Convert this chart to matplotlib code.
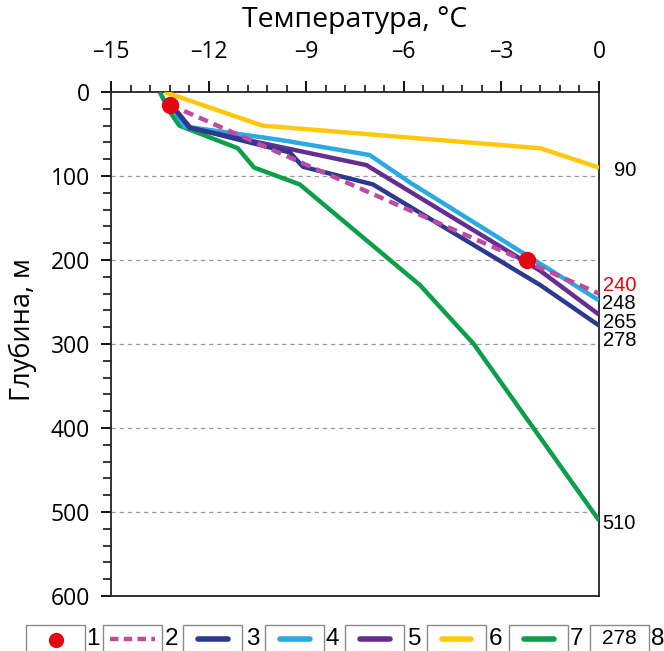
import matplotlib
matplotlib.use("Agg")
import matplotlib.pyplot as plt
from matplotlib.patches import Rectangle
from matplotlib.lines import Line2D
import matplotlib.transforms as mtransforms
import numpy as np

# ---------------- data ----------------
dots_T = [-13.2, -2.2]
dots_d = [15, 200]

fit_T = [-13.2, 0.0]
fit_d = [15, 240]

l3_T = [-13.25, -12.6, -9.5, -9.1, -6.95, -1.8, 0.0]
l3_d = [10, 42, 72, 89, 110, 230, 278]

l4_T = [-13.25, -12.75, -9.8, -7.05, -5.8, 0.0]
l4_d = [10, 41, 57, 75, 108, 248]

l5_T = [-13.25, -12.55, -7.15, -1.8, 0.0]
l5_d = [10, 43, 87, 213, 265]

l6_T = [-13.35, -10.35, -1.8, 0.0]
l6_d = [0, 40, 67, 90]

l7_T = [-13.5, -13.2, -12.9, -11.1, -10.6, -9.2, -5.5, -3.85, 0.0]
l7_d = [0, 23, 40, 67, 90, 110, 230, 300, 510]

end_labels = ["90", "240", "248", "265", "278", "510"]
end_label_depth = [93, 230, 252, 274, 296, 514]

x_ticks = [-15, -12, -9, -6, -3, 0]
x_ticklabels = ["\u201315", "\u201312", "\u20139", "\u20136", "\u20133", "0"]
y_ticks = [0, 100, 200, 300, 400, 500, 600]
legend_labels = ["1", "2", "3", "4", "5", "6", "7", "8"]

# ---------------- style ----------------
C_RED = "#E30613"
C_MAG = "#BE4B9F"
C_NAVY = "#2B3990"
C_LBLUE = "#29ABE2"
C_PURPLE = "#662D91"
C_YELLOW = "#FFC80A"
C_GREEN = "#0B9F4A"

plt.rcParams['font.family'] = ['Open Sans', 'DejaVu Sans']

W, H = 664, 651
fig = plt.figure(figsize=(W / 100, H / 100), dpi=100)
ax = fig.add_axes([111 / W, 1 - 596 / H, (599 - 111) / W, (596 - 92) / H])

LW = 3.2
ax.plot(l7_T, l7_d, color=C_GREEN, lw=LW, solid_capstyle='butt', zorder=3)
ax.plot(l6_T, l6_d, color=C_YELLOW, lw=LW, solid_capstyle='butt', zorder=3)
ax.plot(l4_T, l4_d, color=C_LBLUE, lw=LW, solid_capstyle='butt', zorder=3)
ax.plot(l5_T, l5_d, color=C_PURPLE, lw=LW, solid_capstyle='butt', zorder=3)
ax.plot(l3_T, l3_d, color=C_NAVY, lw=LW, solid_capstyle='butt', zorder=3)
ax.plot(fit_T, fit_d, color=C_MAG, lw=LW, linestyle=(0, (2.2, 1.4)),
        dash_capstyle='butt', zorder=4)
ax.plot(dots_T, dots_d, linestyle='none', marker='o', markersize=12.5,
        color=C_RED, markeredgewidth=0, zorder=5)

ax.set_xlim(-15, 0)
ax.set_ylim(600, 0)
ax.xaxis.tick_top()
ax.xaxis.set_label_position('top')
ax.set_xticks(x_ticks)
ax.set_xticklabels(x_ticklabels)
ax.set_xticks(np.arange(-15, 0.001, 0.6), minor=True)
ax.set_yticks(y_ticks)
ax.set_yticks(np.arange(0, 601, 20), minor=True)

ax.tick_params(axis='x', which='major', length=8, width=1.3, labelsize=16.5, pad=12,
               direction='out', top=True, bottom=False)
ax.tick_params(axis='x', which='minor', length=5, width=1.1, direction='out',
               top=True, bottom=False)
ax.tick_params(axis='y', which='major', length=7, width=1.3, labelsize=16.5, pad=8,
               direction='out')
ax.tick_params(axis='y', which='minor', length=6, width=1.1, direction='out')

for s in ax.spines.values():
    s.set_linewidth(1.3)
    s.set_color('#222222')

for yv in y_ticks[1:-1]:
    ax.axhline(yv, color='#9a9a9a', lw=0.9, linestyle=(0, (3.5, 3)), zorder=1)

ax.set_xlabel("Температура, °C", fontsize=20.5)
ax.xaxis.set_label_coords((355 - 111) / 488, (596 - 20) / 504)
ax.xaxis.label.set_va('center')
ax.set_ylabel("Глубина, м", fontsize=19.5)
ax.yaxis.set_label_coords((23 - 111) / 488, (596 - 330) / 504)
ax.yaxis.label.set_va('center')

trans = mtransforms.blended_transform_factory(ax.transAxes, ax.transData)
for lab, dep in zip(end_labels, end_label_depth):
    ax.text((636 - 111) / 488, dep, lab, transform=trans, ha='right', va='center',
            fontsize=14.5, family=['Liberation Sans'],
            color=(C_RED if lab == "240" else 'black'), clip_on=False)

# ---------------- legend ----------------
def fx(px):
    return px / W

def fy(py):
    return 1 - py / H

box_left = [26, 103, 183, 265, 345, 427, 509, 590]
box_w = 59
num_x = [86, 165, 246, 325, 408, 489, 570, 651]
box_top = 625
row_y = 639

for i in range(8):
    r = Rectangle((fx(box_left[i]), fy(H + 5)), box_w / W, (H + 5 - box_top) / H,
                  transform=fig.transFigure, facecolor='white', edgecolor='#8a8a8a',
                  lw=1.0, clip_on=False)
    fig.add_artist(r)
    fig.text(fx(num_x[i]), fy(row_y), legend_labels[i], ha='left', va='center',
             fontsize=17.5, family=['Liberation Sans'])

cx = [b + box_w / 2 for b in box_left]
fig.add_artist(Line2D([fx(cx[0])], [fy(row_y + 1)], transform=fig.transFigure,
                      marker='o', markersize=11, color=C_RED, markeredgewidth=0,
                      linestyle='none'))
fig.add_artist(Line2D([fx(cx[1] - 22), fx(cx[1] + 22)], [fy(row_y), fy(row_y)],
                      transform=fig.transFigure, color=C_MAG, lw=3.2,
                      linestyle=(0, (1.9, 1.2)), dash_capstyle='butt'))
sample_colors = [C_NAVY, C_LBLUE, C_PURPLE, C_YELLOW, C_GREEN]
for j, c in enumerate(sample_colors):
    k = j + 2
    fig.add_artist(Line2D([fx(cx[k] - 15), fx(cx[k] + 15)], [fy(row_y), fy(row_y)],
                          transform=fig.transFigure, color=c, lw=4,
                          solid_capstyle='round'))
fig.text(fx(cx[7]), fy(row_y), "278", ha='center', va='center', fontsize=15,
         family=['Liberation Sans'])

fig.savefig("out.png", dpi=100)
